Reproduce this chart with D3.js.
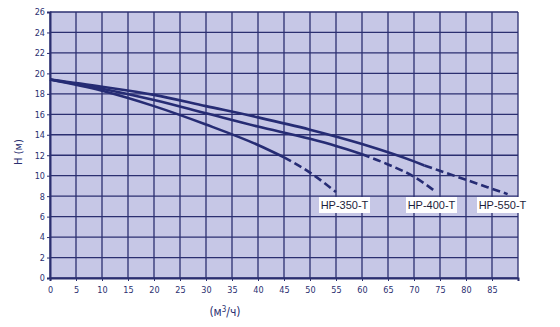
<!DOCTYPE html>
<html>
<head>
<meta charset="utf-8">
<script src="https://cdn.jsdelivr.net/npm/d3@7"></script>
<style>
  body { margin: 0; background: #fff; }
</style>
</head>
<body>
<div id="vis"></div>
<script>
// pump curves, flow (m3/h) vs head (m)
let flow350 = [0, 10, 20, 30, 40, 45, 50, 55]
let head350 = [19.4, 18.3, 16.8, 15.0, 13.0, 11.8, 10.3, 8.4]

let flow400 = [0, 10, 20, 30, 40, 50, 55, 60, 65, 70, 74]
let head400 = [19.4, 18.5, 17.4, 16.1, 14.8, 13.6, 12.9, 12.1, 11.1, 9.9, 8.5]

let flow550 = [0, 10, 20, 30, 40, 50, 60, 70, 72, 80, 88]
let head550 = [19.4, 18.7, 17.9, 16.8, 15.7, 14.5, 13.1, 11.4, 11.0, 9.6, 8.2]

// where the solid part of each curve ends (dashed after)
let solidEnd = [45, 60, 72]
let names = ['HP-350-T', 'HP-400-T', 'HP-550-T']

let xTicks = d3.range(0, 90, 5)
let yTicks = d3.range(0, 27, 2)

let margin = { top: 12, left: 50, right: 42, bottom: 49 },
  width = 560 - margin.left - margin.right,
  height = 327 - margin.top - margin.bottom

let svg = d3.select('#vis')
  .append('svg')
  .attr('width', 560)
  .attr('height', 327)

let g = svg.append('g')
  .attr('transform', `translate(${margin.left},${margin.top})`)

let x = d3.scaleLinear().domain([0, 90]).range([0, width])
let y = d3.scaleLinear().domain([0, 26]).range([height, 0])

let navy = '#2b2f70'

// plot background
g.append('rect')
  .attr('width', width)
  .attr('height', height)
  .attr('fill', '#c6c7e6')

// grid
g.selectAll('.vgrid')
  .data(d3.range(0, 95, 5))
  .join('line')
  .attr('x1', d => x(d)).attr('x2', d => x(d))
  .attr('y1', 0).attr('y2', height)
  .attr('stroke', navy)
  .attr('stroke-width', 1.3)

g.selectAll('.hgrid')
  .data(yTicks)
  .join('line')
  .attr('x1', 0).attr('x2', width)
  .attr('y1', d => y(d)).attr('y2', d => y(d))
  .attr('stroke', navy)
  .attr('stroke-width', 1.3)

// axes
let xAxis = g.append('g')
  .attr('transform', `translate(0,${height})`)
  .call(d3.axisBottom(x).tickValues(xTicks).tickSize(3).tickPadding(6))
let yAxis = g.append('g')
  .call(d3.axisLeft(y).tickValues(yTicks).tickSize(3).tickPadding(2))

for (let a of [xAxis, yAxis]) {
  a.select('.domain').attr('stroke', navy).attr('stroke-width', 2)
  a.selectAll('.tick line').attr('stroke', navy)
  a.selectAll('.tick text')
    .attr('fill', navy)
    .style('font-family', 'DejaVu Sans Condensed')
    .style('font-size', '9px')
}

// curves
let line = d3.line()
  .x(d => x(d[0]))
  .y(d => y(d[1]))
  .curve(d3.curveMonotoneX)

let series = [
  d3.zip(flow350, head350),
  d3.zip(flow400, head400),
  d3.zip(flow550, head550)
]

series.forEach((pts, i) => {
  let solid = pts.filter(p => p[0] <= solidEnd[i])
  let dashed = pts.filter(p => p[0] >= solidEnd[i])
  g.append('path')
    .attr('d', line(solid))
    .attr('fill', 'none')
    .attr('stroke', '#262c74')
    .attr('stroke-width', 2.6)
  g.append('path')
    .attr('d', line(dashed))
    .attr('fill', 'none')
    .attr('stroke', '#262c74')
    .attr('stroke-width', 2.6)
    .attr('stroke-dasharray', '8,4')
})

// curve labels
let labelX = [319, 406, 477]
names.forEach((n, i) => {
  let lx = labelX[i] - margin.left
  let ly = 197 - margin.top
  g.append('rect')
    .attr('x', lx).attr('y', ly)
    .attr('width', 51).attr('height', 16)
    .attr('fill', '#fff')
  g.append('text')
    .attr('x', lx + 25.5).attr('y', ly + 12)
    .attr('text-anchor', 'middle')
    .style('font-family', 'Liberation Sans')
    .style('font-size', '11px')
    .attr('fill', '#1d1d3a')
    .text(n)
})

// axis titles
svg.append('text')
  .attr('x', 225).attr('y', 316)
  .attr('text-anchor', 'middle')
  .style('font-family', 'DejaVu Sans Condensed')
  .style('font-size', '12px')
  .attr('fill', navy)
  .html('(м<tspan dy="-4" font-size="8px">3</tspan><tspan dy="4">/ч)</tspan>')

svg.append('text')
  .attr('transform', 'translate(22,152) rotate(-90)')
  .attr('text-anchor', 'middle')
  .style('font-family', 'DejaVu Sans Condensed')
  .style('font-size', '11px')
  .attr('fill', navy)
  .text('H (м)')
</script>
</body>
</html>
